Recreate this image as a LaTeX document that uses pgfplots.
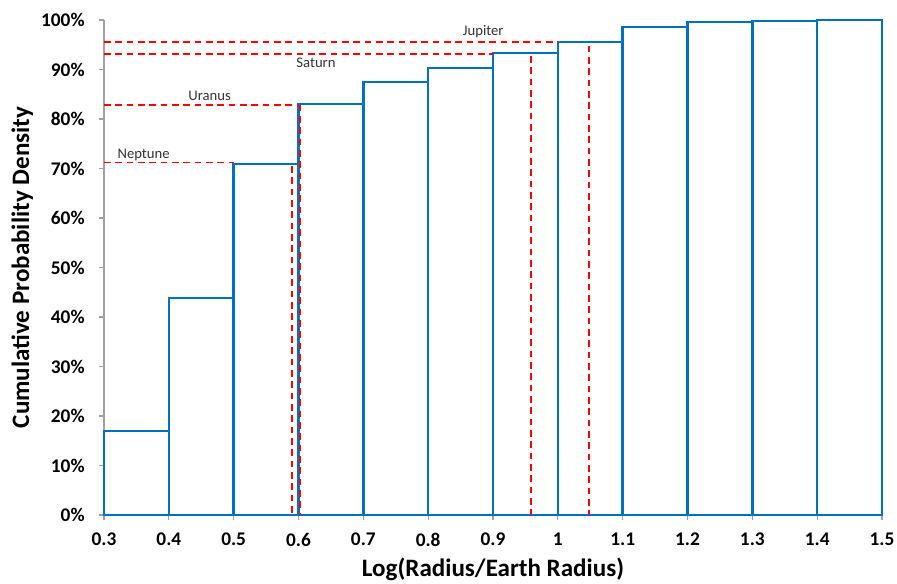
\documentclass[border=0pt]{standalone}
\usepackage{fontspec}
\setmainfont{Carlito}
\usepackage{pgfplots}
\pgfplotsset{compat=1.18}

\definecolor{barblue}{RGB}{0,112,192}
\definecolor{axgray}{RGB}{160,160,160}
\definecolor{markred}{RGB}{255,0,0}

\begin{document}
\begin{tikzpicture}
\begin{axis}[
  scale only axis,
  width=583.5pt,
  height=371.25pt,
  xmin=0.3, xmax=1.5,
  ymin=0, ymax=100,
  axis x line=bottom,
  axis y line=left,
  axis line style={-, draw=axgray, line width=0.8pt},
  xtick={0.3,0.4,0.5,0.6,0.7,0.8,0.9,1,1.1,1.2,1.3,1.4,1.5},
  xticklabels={0.3,0.4,0.5,0.6,0.7,0.8,0.9,1,1.1,1.2,1.3,1.4,1.5},
  ytick={0,10,20,30,40,50,60,70,80,90,100},
  yticklabels={0\%,10\%,20\%,30\%,40\%,50\%,60\%,70\%,80\%,90\%,100\%},
  tick align=outside,
  major tick length=4pt,
  tick style={draw=axgray, line width=0.8pt},
  tick label style={font=\fontsize{14.5}{16}\selectfont\bfseries},
  xticklabel style={yshift=-6pt},
  yticklabel style={xshift=-7pt},
  xlabel={Log(Radius/Earth Radius)},
  ylabel={Cumulative Probability Density},
  label style={font=\fontsize{18.8}{21}\selectfont\bfseries},
  xlabel style={at={(axis description cs:0.5,-0.109)}, anchor=center},
  ylabel style={at={(axis description cs:-0.105,0.5)}, anchor=center, rotate=0},
  clip=false,
  every axis plot/.append style={line cap=butt},
  planet/.style={draw=markred, line width=1.4pt, dash pattern=on 5pt off 3.5pt},
]
% cumulative distribution, one step per 0.1 in log radius
\addplot[ybar interval, fill=white, draw=barblue, line width=1.9pt] coordinates {
  (0.3,17.0) (0.4,43.8) (0.5,70.9) (0.6,83.0) (0.7,87.5) (0.8,90.3)
  (0.9,93.3) (1.0,95.6) (1.1,98.6) (1.2,99.6) (1.3,99.8) (1.4,100) (1.5,100)
};
% planet markers
\addplot[planet] coordinates {(0.3,71.2) (0.5,71.2)};
\addplot[planet] coordinates {(0.59,70.5) (0.59,0)};
\addplot[planet] coordinates {(0.3,82.9) (0.6,82.9)};
\addplot[planet] coordinates {(0.602,82.9) (0.602,0)};
\addplot[planet] coordinates {(0.3,93.2) (0.9,93.2)};
\addplot[planet] coordinates {(0.958,92.7) (0.958,0)};
\addplot[planet] coordinates {(0.3,95.6) (1.0,95.6)};
\addplot[planet] coordinates {(1.048,94.8) (1.048,0)};
\node[font=\fontsize{11}{13}\selectfont, text=black!80] at (axis cs:0.361,72.8) {Neptune};
\node[font=\fontsize{11}{13}\selectfont, text=black!80] at (axis cs:0.463,84.7) {Uranus};
\node[font=\fontsize{11}{13}\selectfont, text=black!80] at (axis cs:0.627,91.3) {Saturn};
\node[font=\fontsize{11}{13}\selectfont, text=black!80] at (axis cs:0.885,97.7) {Jupiter};
\coordinate (ll) at (rel axis cs:0,0);
\coordinate (ur) at (rel axis cs:1,1);
\end{axis}
\path (ll) ++(-78pt,-51pt) coordinate (bba);
\path (ur) ++(11.25pt,15pt) coordinate (bbb);
\pgfresetboundingbox
\useasboundingbox (bba) rectangle (bbb);
\end{tikzpicture}
\end{document}
